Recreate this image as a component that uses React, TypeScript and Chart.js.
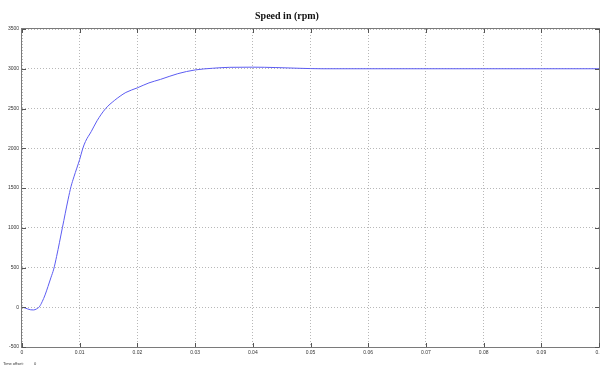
import React, { useEffect, useRef } from "react";
import { Chart, registerables } from "chart.js";

Chart.register(...registerables);

// Motor speed response samples: time in seconds, speed in rpm
const TIME = [
  0, 0.0005, 0.001, 0.0015, 0.002, 0.0025, 0.003, 0.0035, 0.004, 0.0045,
  0.005, 0.0055, 0.006, 0.007, 0.008, 0.0085, 0.009, 0.0095, 0.01, 0.0105,
  0.011, 0.012, 0.013, 0.0145, 0.016, 0.017, 0.018, 0.02, 0.022, 0.024,
  0.027, 0.03, 0.033, 0.036, 0.04, 0.044, 0.048, 0.052, 0.06, 0.07, 0.08,
  0.09, 0.1,
];
const SPEED = [
  0, -8, -22, -32, -34, -22, 5, 70, 155, 260,
  370, 480, 640, 1000, 1360, 1520, 1640, 1750, 1860, 1990,
  2085, 2210, 2345, 2500, 2600, 2655, 2702, 2760, 2822, 2866,
  2938, 2985, 3006, 3018, 3020, 3015, 3006, 3000, 3000, 3000, 3000,
  3000, 3000,
];

const TITLE = "Speed in (rpm)";
const OFFSET_LABEL = "Time offset:";
const OFFSET_VALUE = "0";

const Y_MIN = -500;
const Y_MAX = 3500;
const Y_STEP = 500;
const X_MIN = 0;
const X_MAX = 0.1;
const X_STEP = 0.01;

const TICK_FONT = { size: 5, family: "'Liberation Sans', Arial, sans-serif" };

const fmt = (v: number) => String(Number(v.toFixed(3)));

// Scope-style box, inward tick marks, title and the time-offset note
const framePlugin = {
  id: "scopeFrame",
  afterDraw(chart: any) {
    const { ctx, chartArea, scales } = chart;
    const { left, right, top, bottom } = chartArea;
    const x = scales.x;
    const y = scales.y;
    ctx.save();
    ctx.strokeStyle = "#7a7a7a";
    ctx.lineWidth = 1;
    ctx.strokeRect(
      Math.round(left) - 0.5,
      Math.round(top) - 0.5,
      Math.round(right - left) + 1,
      Math.round(bottom - top) + 1
    );
    ctx.strokeStyle = "#555";
    ctx.beginPath();
    x.ticks.forEach((t: any) => {
      const px = Math.round(x.getPixelForValue(t.value)) + 0.5;
      ctx.moveTo(px, bottom);
      ctx.lineTo(px, bottom - 4);
      ctx.moveTo(px, top);
      ctx.lineTo(px, top + 4);
    });
    y.ticks.forEach((t: any) => {
      const py = Math.round(y.getPixelForValue(t.value)) + 0.5;
      ctx.moveTo(left, py);
      ctx.lineTo(left + 4, py);
      ctx.moveTo(right, py);
      ctx.lineTo(right - 4, py);
    });
    ctx.stroke();

    ctx.fillStyle = "#111";
    ctx.font = "bold 10px 'Liberation Serif', 'Times New Roman', serif";
    ctx.textAlign = "center";
    ctx.textBaseline = "alphabetic";
    ctx.fillText(TITLE, 287, 19);

    ctx.font = "4px 'Liberation Sans', Arial, sans-serif";
    ctx.textAlign = "left";
    ctx.fillStyle = "#333";
    ctx.fillText(OFFSET_LABEL, 3, 365);
    ctx.fillText(OFFSET_VALUE, 34, 365);
    ctx.restore();
  },
};

export default function App() {
  const canvasRef = useRef<HTMLCanvasElement | null>(null);

  useEffect(() => {
    const canvas = canvasRef.current;
    if (!canvas) return;
    const chart = new Chart(canvas, {
      type: "line",
      data: {
        datasets: [
          {
            label: "Speed",
            data: TIME.map((t, i) => ({ x: t, y: SPEED[i] })),
            borderColor: "#5c5cf2",
            borderWidth: 1,
            pointRadius: 0,
            fill: false,
            cubicInterpolationMode: "monotone",
          },
        ],
      },
      options: {
        animation: false,
        responsive: false,
        events: [],
        layout: { padding: { top: 29, right: 1, left: 0, bottom: 0 } },
        plugins: {
          legend: { display: false },
          tooltip: { enabled: false },
          title: { display: false },
        },
        scales: {
          x: {
            type: "linear",
            min: X_MIN,
            max: X_MAX,
            border: { display: false, dash: [1, 2] },
            grid: { color: "#b8b8b8", drawTicks: false },
            ticks: {
              stepSize: X_STEP,
              autoSkip: false,
              maxRotation: 0,
              padding: 3,
              color: "#333",
              font: TICK_FONT,
              callback: (v: any) => fmt(Number(v)),
            },
            afterFit(scale: any) {
              scale.height = 20;
              scale.paddingLeft = 0;
              scale.paddingRight = 0;
            },
          },
          y: {
            min: Y_MIN,
            max: Y_MAX,
            border: { display: false, dash: [1, 2] },
            grid: { color: "#b8b8b8", drawTicks: false },
            ticks: {
              stepSize: Y_STEP,
              padding: 3,
              color: "#333",
              font: TICK_FONT,
              callback: (v: any) => fmt(Number(v)),
            },
            afterFit(scale: any) {
              scale.width = 22;
              scale.paddingTop = 0;
              scale.paddingBottom = 0;
            },
          },
        },
      } as any,
      plugins: [framePlugin],
    });
    return () => chart.destroy();
  }, []);

  return (
    <div style={{ position: "absolute", left: 0, top: 0, width: 600, height: 367, background: "#fff" }}>
      <canvas ref={canvasRef} width={600} height={367} style={{ display: "block" }} />
    </div>
  );
}
